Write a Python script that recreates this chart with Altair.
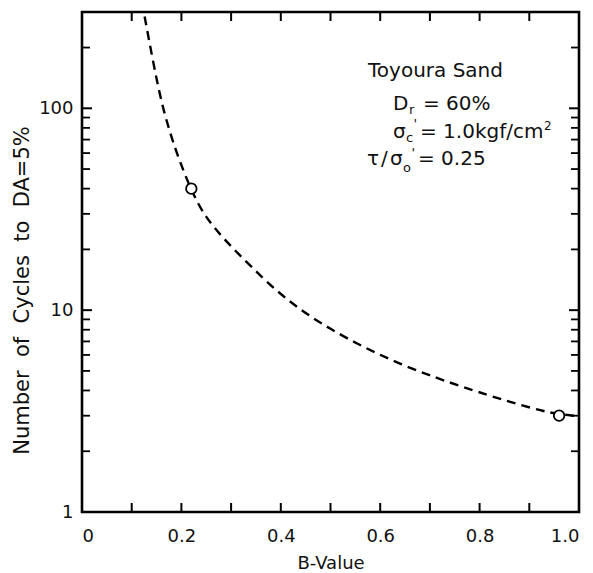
import altair as alt
import pandas as pd

# Dashed trend curve: B-value vs number of cycles to reach DA = 5 %
curve_b = [0.126, 0.145, 0.163, 0.190, 0.219, 0.247, 0.292, 0.344, 0.404, 0.493, 0.64, 0.80, 0.88, 0.93, 0.96, 0.99]
curve_n = [285, 160, 98, 60, 39.5, 29.0, 21.6, 16.1, 11.6, 8.1, 5.3, 3.9, 3.4, 3.15, 3.05, 3.0]

# Test results (open circles)
test_b = [0.22, 0.96]
test_n = [40, 3]

# Axis tick positions
x_label_vals = [0, 0.2, 0.4, 0.6, 0.8, 1.0]
x_tick_vals = [0.1, 0.2, 0.3, 0.4, 0.5, 0.6, 0.7, 0.8, 0.9]
y_label_vals = [1, 10, 100]
y_major_ticks = [10, 100]
y_minor_ticks = [2, 3, 4, 5, 6, 7, 8, 9, 20, 30, 40, 50, 60, 70, 80, 90, 200, 300]

W, H = 497, 500
FONT = "DejaVu Sans"
INK = "#111"
GAP = " \u00a0"  # widened word spacing (non-breaking space survives SVG whitespace collapsing)

x_scale = alt.Scale(domain=[0, 1], nice=False, zero=False)
y_scale = alt.Scale(type="log", domain=[1, 300], nice=False)

curve_df = pd.DataFrame({"b": curve_b, "n": curve_n})
test_df = pd.DataFrame({"b": test_b, "n": test_n})

x_axis = alt.Axis(
    values=x_label_vals,
    labelExpr="datum.value == 0 ? '0' : format(datum.value, '.1f')",
    title="B-Value",
    grid=False, ticks=False, domain=False,
    labelFont=FONT, labelFontSize=18, labelColor=INK, labelPadding=15,
    titleFont=FONT, titleFontSize=18, titleFontWeight="normal", titleColor=INK, titlePadding=9,
)
y_axis = alt.Axis(
    values=y_label_vals,
    labelExpr="format(datum.value, 'd')",
    title=GAP.join(["Number", "of", "Cycles", "to", "DA=5%"]),
    grid=False, ticks=False, domain=False,
    labelFont=FONT, labelFontSize=18, labelColor=INK, labelPadding=9,
    titleFont=FONT, titleFontSize=21, titleFontWeight="normal", titleColor=INK,
    titleX=-60, titleY=H / 2 + 28, titleAngle=270, titleAlign="center", titleBaseline="middle",
)

curve = alt.Chart(curve_df).mark_line(
    color="black", strokeWidth=2.4, strokeDash=[9, 6], interpolate="basis", clip=True
).encode(
    x=alt.X("b:Q", scale=x_scale, axis=x_axis),
    y=alt.Y("n:Q", scale=y_scale, axis=y_axis),
)

points = alt.Chart(test_df).mark_point(
    shape="circle", size=110, filled=True, fill="white", stroke="black", strokeWidth=1.8, opacity=1
).encode(x=alt.X("b:Q", scale=x_scale), y=alt.Y("n:Q", scale=y_scale))

# Inward tick marks on all four sides
xt = pd.DataFrame({"b": x_tick_vals})
x_bottom = alt.Chart(xt).mark_rule(color="black", strokeWidth=2).encode(
    x=alt.X("b:Q", scale=x_scale), y=alt.value(H), y2=alt.value(H - 9))
x_top = alt.Chart(xt).mark_rule(color="black", strokeWidth=2).encode(
    x=alt.X("b:Q", scale=x_scale), y=alt.value(0), y2=alt.value(9))

ymaj = pd.DataFrame({"n": y_major_ticks})
ymin = pd.DataFrame({"n": y_minor_ticks})
y_left_major = alt.Chart(ymaj).mark_rule(color="black", strokeWidth=2).encode(
    y=alt.Y("n:Q", scale=y_scale), x=alt.value(0), x2=alt.value(10))
y_right_major = alt.Chart(ymaj).mark_rule(color="black", strokeWidth=2).encode(
    y=alt.Y("n:Q", scale=y_scale), x=alt.value(W), x2=alt.value(W - 10))
y_left_minor = alt.Chart(ymin).mark_rule(color="black", strokeWidth=1.8).encode(
    y=alt.Y("n:Q", scale=y_scale), x=alt.value(0), x2=alt.value(8))
y_right_minor = alt.Chart(ymin).mark_rule(color="black", strokeWidth=1.8).encode(
    y=alt.Y("n:Q", scale=y_scale), x=alt.value(W), x2=alt.value(W - 8))

# Test-condition annotation block
def label(text, x, y, size=20):
    return alt.Chart(pd.DataFrame({"t": [text]})).mark_text(
        font=FONT, fontSize=size, color=INK, align="left", baseline="alphabetic"
    ).encode(text="t:N", x=alt.value(x), y=alt.value(y))

notes = [
    label("Toyoura Sand", 286, 65),
    label("D", 311, 98),
    label("r", 327, 102, size=13),
    label("= 60%", 341, 98),
    label("σ", 311, 126),
    label("c", 324, 130, size=13),
    label("'", 331.5, 116, size=13),
    label("= 1.0kgf/cm", 338, 126),
    label("2", 462, 118, size=12),
    label("τ", 285, 153),
    label("/", 299, 153),
    label("σ", 308, 153),
    label("o", 321, 160, size=13),
    label("'", 329.5, 145, size=13),
    label("= 0.25", 336, 153),
]

chart = alt.layer(
    curve, points, x_bottom, x_top, y_left_major, y_right_major, y_left_minor, y_right_minor, *notes
).properties(
    width=W, height=H,
    autosize=alt.AutoSizeParams(type="none"),
    padding={"left": 82, "top": 12, "right": 14, "bottom": 61},
    background="white",
).configure_view(stroke="black", strokeWidth=2.6)

chart.save("out.html", embed_options={"renderer": "svg", "actions": False})
